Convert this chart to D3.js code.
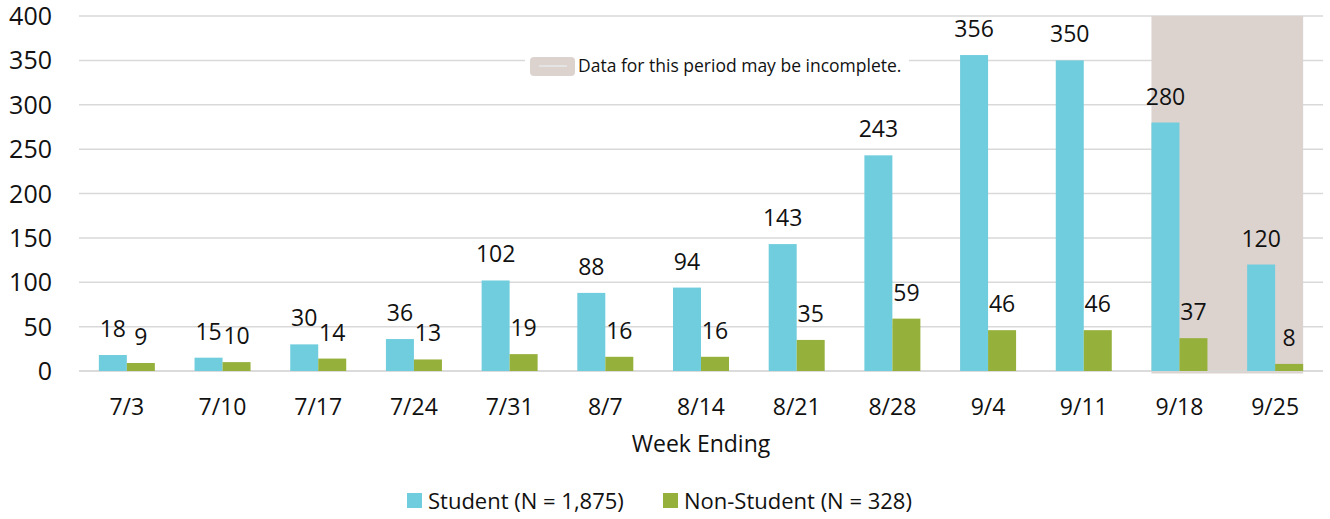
<!DOCTYPE html>
<html>
<head>
<meta charset="utf-8">
<script src="https://cdn.jsdelivr.net/npm/d3@7"></script>
<style>
  body{margin:0;background:#fff}
  text{font-family:"Open Sans",sans-serif;fill:#111}
</style>
</head>
<body>
<div id="chart"></div>
<script>
const weeks=['7/3','7/10','7/17','7/24','7/31','8/7','8/14','8/21','8/28','9/4','9/11','9/18','9/25']
const student=[18,15,30,36,102,88,94,143,243,356,350,280,120]
const nonStudent=[9,10,14,13,19,16,16,35,59,46,46,37,8]
const incompleteWeeks=['9/18','9/25']
const yTicks=[0,50,100,150,200,250,300,350,400]
const seriesNames=['Student (N = 1,875)','Non-Student (N = 328)']
const colors=['#70cddd','#95b03b']

const W=1330,H=519
const margin=({top:16,right:7,bottom:148,left:79})
const width=W-margin.left-margin.right,
  height=H-margin.top-margin.bottom

const data=weeks.map((w,i)=>({week:w,values:[student[i],nonStudent[i]]}))

const svg=d3.select('#chart').append('svg')
  .attr('width',W)
  .attr('height',H)

const g=svg.append('g')
  .attr('transform','translate('+margin.left+','+margin.top+')')

const xScale=d3.scaleBand()
  .domain(weeks)
  .range([0,width])

const groupW=56
const offset=(xScale.bandwidth()-groupW)/2
const x1=d3.scaleBand()
  .domain([0,1])
  .range([0,groupW])

const yScale=d3.scaleLinear()
  .domain([0,400])
  .range([height,0])

// gridlines
g.append('g')
  .selectAll('line')
  .data(yTicks)
  .join('line')
  .attr('x1',0)
  .attr('x2',width)
  .attr('y1',d=>yScale(d))
  .attr('y2',d=>yScale(d))
  .attr('stroke','#d9d9d9')
  .attr('stroke-width',1.5)

// incomplete period shade
const sx0=xScale(incompleteWeeks[0])+offset,
  sx1=xScale(incompleteWeeks[incompleteWeeks.length-1])+offset+groupW
g.append('rect')
  .attr('x',sx0)
  .attr('y',yScale(400))
  .attr('width',sx1-sx0)
  .attr('height',yScale(0)-yScale(400)+2.5)
  .attr('fill','#dcd3cf')

g.append('line')
  .attr('x1',0)
  .attr('x2',width)
  .attr('y1',yScale(0))
  .attr('y2',yScale(0))
  .attr('stroke','#d9d9d9')
  .attr('stroke-width',1.5)

// y labels
svg.append('g')
  .selectAll('text')
  .data(yTicks)
  .join('text')
  .attr('x',52)
  .attr('y',d=>margin.top+yScale(d))
  .attr('dy','0.36em')
  .attr('text-anchor','end')
  .style('font-size','25px')
  .text(d=>d)

const groups=g.selectAll('.grp')
  .data(data)
  .join('g')
  .attr('class','grp')
  .attr('transform',d=>'translate('+(xScale(d.week)+offset)+',0)')

groups.selectAll('rect')
  .data(d=>d.values)
  .join('rect')
  .attr('x',(d,i)=>x1(i))
  .attr('y',d=>yScale(d))
  .attr('width',x1.bandwidth())
  .attr('height',d=>yScale(0)-yScale(d))
  .attr('fill',(d,i)=>colors[i])

groups.selectAll('text')
  .data(d=>d.values)
  .join('text')
  .attr('x',(d,i)=>x1(i)+x1.bandwidth()/2)
  .attr('y',d=>yScale(d)-18)
  .attr('text-anchor','middle')
  .style('font-size','23px')
  .text(d=>d)

// x labels
g.append('g')
  .selectAll('text')
  .data(weeks)
  .join('text')
  .attr('x',d=>xScale(d)+xScale.bandwidth()/2)
  .attr('y',height+44)
  .attr('text-anchor','middle')
  .style('font-size','23px')
  .text(d=>d)

g.append('text')
  .attr('x',width/2)
  .attr('y',height+81)
  .attr('text-anchor','middle')
  .style('font-size','23px')
  .text('Week Ending')

// incomplete note
const note=svg.append('g')
note.append('rect')
  .attr('x',525).attr('y',50).attr('width',384).attr('height',32)
  .attr('fill','#fff')
note.append('rect')
  .attr('x',530).attr('y',57).attr('width',45).attr('height',19)
  .attr('rx',4)
  .attr('fill','#dcd3cf')
note.append('line')
  .attr('x1',539).attr('x2',567).attr('y1',66).attr('y2',66)
  .attr('stroke','#e4e4e4').attr('stroke-width',2)
note.append('text')
  .attr('x',578).attr('y',72)
  .style('font-size','17.5px')
  .text('Data for this period may be incomplete.')

// legend
const legendX=[407,663]
const legend=svg.append('g')
  .selectAll('g')
  .data(seriesNames)
  .join('g')
  .attr('transform',(d,i)=>'translate('+legendX[i]+',493)')
legend.append('rect')
  .attr('width',15).attr('height',15)
  .attr('fill',(d,i)=>colors[i])
legend.append('text')
  .attr('x',21).attr('y',16)
  .style('font-size','22px')
  .text(d=>d)
</script>
</body>
</html>
